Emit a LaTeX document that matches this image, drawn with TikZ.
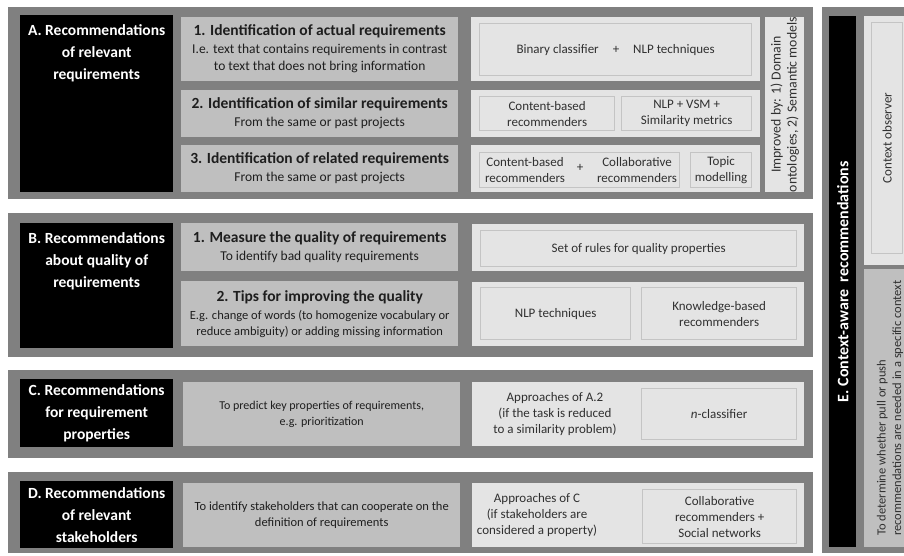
\documentclass[tikz,border=0pt]{standalone}
\usepackage{fontspec}
\setmainfont{Carlito}
\usetikzlibrary{positioning}

\definecolor{panelgray}{HTML}{808080}
\definecolor{taskgray}{HTML}{BFBFBF}
\definecolor{techgray}{HTML}{E4E4E4}
\definecolor{innerline}{HTML}{C4C4C4}
\definecolor{txtdark}{HTML}{1E1E1E}
\definecolor{txttech}{HTML}{303030}

\newcommand{\ttlfont}{\fontsize{15.5}{20}\selectfont\bfseries}
\newcommand{\subtxtfont}{\fontsize{13.5}{17}\selectfont}
\newcommand{\smalltxtfont}{\fontsize{12.5}{15.5}\selectfont}
\newcommand{\techtxtfont}{\fontsize{13}{16}\selectfont}

\tikzset{
  wh/.style 2 args={minimum width=#1, minimum height=#2},
  panel/.style={fill=panelgray, anchor=north west, inner sep=0pt},
  headbox/.style={fill=black, anchor=north west, inner sep=0pt},
  headtext/.style={text=white, font=\fontsize{15.5}{22}\selectfont\bfseries, align=center, inner sep=0pt},
  taskbox/.style={fill=taskgray, anchor=north west, inner sep=0pt, align=center, text=txtdark, font=\subtxtfont},
  techbox/.style={fill=techgray, anchor=north west, inner sep=0pt},
  tech/.style={draw=innerline, line width=1.3pt, fill=techgray, anchor=north west, inner sep=0pt, align=center, text=txttech, font=\techtxtfont},
  techtext/.style={align=center, text=txttech, font=\techtxtfont, inner sep=0pt}
}

\begin{document}
\begin{tikzpicture}[x=1pt,y=-1pt]
\clip (0,0) rectangle (904,555);
\fill[white] (0,0) rectangle (904,555);

% A. relevant requirements
\node[panel, wh={805}{192}] (pA) at (8,7) {};
\node[headbox, wh={153}{177}] (hA) at (20,15) {};
\node[headtext, below=9pt of hA.north] (hAt) {A. Recommendations\\of relevant\\requirements};
\node[taskbox, wh={277}{64}] (a1) at (181,17) {{\ttlfont 1. Identification of actual requirements}\\[1pt] I.e. text that contains requirements in contrast\\to text that does not bring information};
\node[taskbox, wh={277}{47}] (a2) at (181,90) {{\ttlfont 2. Identification of similar requirements}\\[1pt] From the same or past projects};
\node[taskbox, wh={277}{47}] (a3) at (181,145) {{\ttlfont 3. Identification of related requirements}\\[1pt] From the same or past projects};
\node[techbox, wh={289}{64}] (ta1) at (471,17) {};
\node[tech, wh={272}{52}] (ta1a) at (479,23) {Binary classifier\hspace{14pt}+\hspace{14pt}NLP techniques};
\node[techbox, wh={289}{47}] (ta2) at (471,90) {};
\node[tech, wh={135}{34}] (ta2a) at (479,96) {Content-based\\recommenders};
\node[tech, wh={130}{34}] (ta2b) at (621,96) {NLP + VSM +\\Similarity metrics};
\node[techbox, wh={289}{47}] (ta3) at (471,145) {};
\node[tech, wh={200}{35}] (ta3a) at (479,152) {};
\node[techtext] (ta3l) at (525,170) {Content-based\\recommenders};
\node[techtext] (ta3p) at (580,168) {+};
\node[techtext] (ta3r) at (637,170) {Collaborative\\recommenders};
\node[tech, wh={61}{35}] (ta3b) at (690,152) {Topic\\modelling};
\node[techbox, wh={39}{175}] (imp) at (765,17) {};
\node[techtext, rotate=90, font=\fontsize{13.8}{16}\selectfont] (impt) at (imp.center) {Improved by: 1) Domain\\ontologies, 2) Semantic models};

% B. quality of requirements
\node[panel, wh={805}{144}] (pB) at (8,213) {};
\node[headbox, wh={153}{125}] (hB) at (20,223) {};
\node[headtext, below=9pt of hB.north] (hBt) {B. Recommendations\\about quality of\\requirements};
\node[taskbox, wh={277}{48}] (b1) at (181,223) {{\ttlfont 1. Measure the quality of requirements}\\[1pt] To identify bad quality requirements};
\node[taskbox, wh={277}{65}, font=\smalltxtfont] (b2) at (181,281) {{\ttlfont 2. Tips for improving the quality}\\[3pt] E.g. change of words (to homogenize vocabulary or\\reduce ambiguity) or adding missing information};
\node[techbox, wh={332}{47}] (tb1) at (472,224) {};
\node[tech, wh={316}{36}] (tb1a) at (480,230) {Set of rules for quality properties};
\node[techbox, wh={332}{64}] (tb2) at (472,282) {};
\node[tech, wh={150}{52}] (tb2a) at (480,287) {NLP techniques};
\node[tech, wh={155}{52}] (tb2b) at (641,287) {Knowledge-based\\recommenders};

% C. requirement properties
\node[panel, wh={805}{88}] (pC) at (8,370) {};
\node[headbox, headtext, wh={153}{68}] (hC) at (20,379) {C. Recommendations\\for requirement\\properties};
\node[taskbox, wh={277}{64}, font=\fontsize{12}{15.5}\selectfont] (c1) at (183,382) {To predict key properties of requirements,\\e.g. prioritization};
\node[techbox, wh={332}{64}] (tc1) at (472,382) {};
\node[techtext] (tc1l) at (555,414) {Approaches of A.2\\(if the task is reduced\\to a similarity problem)};
\node[tech, wh={155}{51}] (tc1a) at (641,388) {\textit{n}-classifier};

% D. relevant stakeholders
\node[panel, wh={805}{81}] (pD) at (8,472) {};
\node[headbox, headtext, wh={153}{67}] (hD) at (20,481) {D. Recommendations\\of relevant\\stakeholders};
\node[taskbox, wh={277}{64}, font=\smalltxtfont] (d1) at (183,483) {To identify stakeholders that can cooperate on the\\definition of requirements};
\node[techbox, wh={332}{64}] (td1) at (472,483) {};
\node[techtext] (td1l) at (537,515) {Approaches of C\\(if stakeholders are\\considered a property)};
\node[tech, wh={154}{54}] (td1a) at (642,489) {Collaborative\\recommenders +\\Social networks};

% E. context-aware
\node[panel, wh={100}{546}] (pE) at (822,7) {};
\node[headbox, wh={27}{531}] (hE) at (829,16) {};
\node[headtext, rotate=90, font=\fontsize{16}{20}\selectfont\bfseries] (hEt) at (hE.center) {E. Context-aware\ \ recommendations};
\node[techbox, wh={50}{249}] (e1) at (864,16) {};
\node[tech, wh={31}{231}] (e1a) at (871,22) {};
\node[techtext, rotate=90] (e1t) at (e1a.center) {Context observer};
\node[taskbox, wh={50}{278}] (e2) at (864,269) {};
\node[techtext, rotate=90, align=left, font=\smalltxtfont] (e2t) at (890,408) {To determine whether pull or push\\recommendations are needed in a specific context};
\end{tikzpicture}
\end{document}
